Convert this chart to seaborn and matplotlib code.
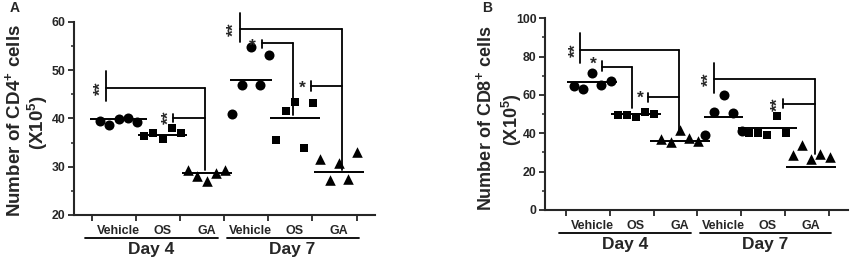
import numpy as np
import pandas as pd
import matplotlib
matplotlib.use('Agg')
import matplotlib.pyplot as plt
import matplotlib.transforms as mtransforms
from matplotlib.ticker import MultipleLocator
import seaborn as sns

# group labels (Day 4 then Day 7)
groups = ['Vehicle', 'OS', 'GA', 'Vehicle', 'OS', 'GA']
shapes = ['circle', 'square', 'triangle', 'circle', 'square', 'triangle']
days = ['Day 4', 'Day 7']

# CD4+ cells (x10^5), 5 animals per group
cd4_values = [
    [39.5, 38.7, 39.8, 40.1, 39.2],
    [36.3, 36.9, 35.8, 37.9, 36.9],
    [29.3, 28.1, 27.0, 28.7, 29.3],
    [40.9, 47.0, 54.8, 46.8, 53.1],
    [35.5, 41.6, 43.3, 33.9, 43.1],
    [31.6, 27.2, 30.7, 27.4, 33.0],
]
cd4_lines = [39.9, 36.6, 28.6, 47.9, 40.1, 29.0]

# CD8+ cells (x10^5)
cd8_values = [
    [64.9, 63.0, 71.7, 65.0, 67.1],
    [49.6, 49.6, 48.3, 51.0, 50.1],
    [37.0, 35.7, 41.7, 37.4, 36.0],
    [39.1, 51.0, 59.8, 50.4, 41.4],
    [40.3, 40.3, 39.1, 49.0, 40.3],
    [28.7, 33.9, 26.4, 29.2, 27.4],
]
cd8_lines = [66.6, 50.3, 36.2, 48.7, 42.6, 22.6]

# significance brackets: stars, star x, star y, bar x, bar bottom, bar top, line y, right x, drop to
cd4_sig = [
    ('**', -0.40, 46.3, -0.28, 43.6, 49.8, 46.3, 1.96, 29.3),
    ('**', 1.16, 40.2, 1.24, 39.3, 41.0, 40.1, 1.96, None),
    ('**', 2.62, 58.4, 2.76, 55.7, 61.9, 58.4, 5.07, 29.3),
    ('*', 3.03, 55.0, 3.25, 54.5, 56.2, 55.5, 3.96, 40.7),
    ('*', 4.16, 46.2, 4.37, 45.7, 47.7, 46.7, 5.07, None),
]
cd8_sig = [
    ('**', -0.37, 83.5, -0.28, 76.5, 92.2, 83.5, 1.98, 41.7),
    ('*', 0.02, 76.0, 0.22, 72.7, 77.7, 74.8, 0.91, 53.0),
    ('*', 1.09, 58.2, 1.27, 56.5, 60.9, 58.8, 1.98, None),
    ('**', 2.66, 68.3, 2.78, 60.9, 76.5, 68.3, 5.08, 29.2),
    ('**', 4.25, 55.3, 4.35, 53.0, 57.9, 55.1, 5.08, None),
]

sns.set_style('ticks')
plt.rcParams['font.family'] = ['Liberation Sans', 'DejaVu Sans']
plt.rcParams['font.weight'] = 'bold'
plt.rcParams['mathtext.fontset'] = 'custom'
plt.rcParams['mathtext.rm'] = 'Liberation Sans:bold'
plt.rcParams['mathtext.it'] = 'Liberation Sans:bold'
plt.rcParams['mathtext.bf'] = 'Liberation Sans:bold'

markers = {'circle': 'o', 'square': 's', 'triangle': '^'}
msize = {'circle': 52, 'square': 38, 'triangle': 58}


def make_df(values):
    rows = []
    for i, vals in enumerate(values):
        for r, v in enumerate(vals):
            rows.append({'idx': i, 'rep': r, 'value': v, 'shape': shapes[i]})
    df = pd.DataFrame(rows)
    df['xpos'] = df['idx'] + (df['rep'] - 2) * 0.21
    return df


def draw_panel(ax, values, lines, half, sig, ylim, major, minor, xlim):
    df = make_df(values)
    for shp, sub in df.groupby('shape'):
        sns.scatterplot(data=sub, x='xpos', y='value', marker=markers[shp],
                        s=msize[shp], color='black', linewidth=0, ax=ax,
                        legend=False, clip_on=False, zorder=3)
    for i, m in enumerate(lines):
        ax.hlines(m, i - half[i], i + half[i], color='black', lw=1.4, zorder=2)

    for st, sx, sy, bx, b0, b1, ly, rx, drop in sig:
        kw = dict(color='black', lw=1.3, clip_on=False)
        ax.plot([bx, bx], [b0, b1], **kw)
        ax.plot([bx, rx], [ly, ly], **kw)
        if drop is not None:
            ax.plot([rx, rx], [ly, drop], **kw)
        rot = 90 if len(st) > 1 else 0
        ax.text(sx, sy, st, rotation=rot, ha='center', va='center',
                fontsize=12.5, fontweight='bold', rotation_mode='anchor',
                clip_on=False)

    ax.set_xlim(*xlim)
    ax.set_ylim(*ylim)
    ax.yaxis.set_major_locator(MultipleLocator(major))
    ax.yaxis.set_minor_locator(MultipleLocator(minor))
    bounds = np.arange(7) - 0.6
    ax.set_xticks(bounds, labels=[''] * 7)
    ax.set_xticks(range(6), labels=groups, minor=True)
    ax.tick_params(axis='x', which='major', direction='out', length=4, width=1.3)
    ax.tick_params(axis='x', which='minor', length=0, pad=7.5, labelsize=9)
    ax.tick_params(axis='y', which='major', direction='out', length=4.5, width=1.3,
                   pad=1.5, labelsize=8.8)
    ax.tick_params(axis='y', which='minor', direction='out', length=2.3, width=1.1)
    for lab in ax.get_xticklabels(minor=True) + ax.get_yticklabels():
        lab.set_fontweight('bold')
    ax.set_xlabel('')
    ax.set_ylabel('')
    for sp in ['left', 'bottom']:
        ax.spines[sp].set_linewidth(1.5)
    sns.despine(ax=ax)

    trans_line = mtransforms.offset_copy(ax.get_xaxis_transform(), fig=ax.figure,
                                         y=-23, units='dots')
    trans_day = mtransforms.offset_copy(ax.get_xaxis_transform(), fig=ax.figure,
                                        y=-35, units='dots')
    for (x0, x1), d in zip([(-0.75, 2.25), (2.45, 5.45)], days):
        ax.plot([x0, x1], [0, 0], color='black', lw=1.3, transform=trans_line,
                clip_on=False)
        ax.text((x0 + x1) / 2, 0, d, transform=trans_day, ha='center',
                va='center', fontsize=12.5, fontweight='bold')


fig = plt.figure(figsize=(8.51, 2.62), dpi=100)
axA = fig.add_axes([0.0870, 0.1794, 0.3537, 0.7378])
axB = fig.add_axes([0.6404, 0.1985, 0.3560, 0.7317])

draw_panel(axA, cd4_values, cd4_lines, [0.64, 0.55, 0.57, 0.48, 0.57, 0.57],
           cd4_sig, (20, 60), 10, 5, (-1.01, 5.82))
draw_panel(axB, cd8_values, cd8_lines, [0.57, 0.57, 0.68, 0.45, 0.68, 0.57],
           cd8_sig, (0, 100), 20, 10, (-1.08, 5.84))

fig.text(14 / 851, 1 - 121 / 262, 'Number of CD4$^{+}$ cells', rotation=90,
         ha='center', va='center', fontsize=13.5, fontweight='bold')
fig.text(38 / 851, 1 - 123 / 262, '(X10$^{5}$)', rotation=90,
         ha='center', va='center', fontsize=13.5, fontweight='bold')
fig.text(485 / 851, 1 - 118 / 262, 'Number of CD8$^{+}$ cells', rotation=90,
         ha='center', va='center', fontsize=13, fontweight='bold')
fig.text(512 / 851, 1 - 120 / 262, '(X10$^{5}$)', rotation=90,
         ha='center', va='center', fontsize=13, fontweight='bold')
fig.text(15 / 851, 1 - 8 / 262, 'A', ha='center', va='center', fontsize=10,
         fontweight='bold')
fig.text(487 / 851, 1 - 8 / 262, 'B', ha='center', va='center', fontsize=10,
         fontweight='bold')

fig.savefig('out.png', dpi=100, facecolor='white')
